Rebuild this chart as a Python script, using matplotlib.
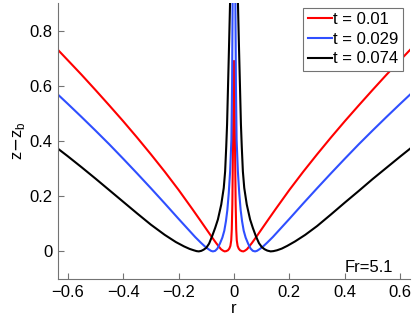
import matplotlib
matplotlib.use("Agg")
import matplotlib.pyplot as plt

plt.rcParams['font.family'] = ['Liberation Sans', 'DejaVu Sans']

labels = ["t = 0.01", "t = 0.029", "t = 0.074"]
colors = ["#ff0000", "#2f4fff", "#000000"]

# t = 0.01 (red)
r_red = [-0.635, -0.60, -0.55, -0.50, -0.45, -0.40, -0.35, -0.30, -0.25, -0.20, -0.15, -0.12,
         -0.10, -0.08, -0.065, -0.055, -0.047, -0.04, -0.034, -0.028, -0.022, -0.017, -0.013,
         -0.010, -0.008, -0.006, -0.0045, -0.003, -0.0015, 0.0,
         0.0015, 0.003, 0.0045, 0.006, 0.008, 0.010, 0.013, 0.017, 0.022, 0.028, 0.034, 0.04,
         0.047, 0.055, 0.065, 0.08, 0.10, 0.12, 0.15, 0.20, 0.25, 0.30, 0.35, 0.40, 0.45,
         0.50, 0.55, 0.60, 0.635]
z_red = [0.73, 0.693, 0.640, 0.585, 0.529, 0.472, 0.413, 0.352, 0.289, 0.223, 0.153, 0.110,
         0.081, 0.052, 0.031, 0.018, 0.008, 0.003, 0.0, 0.001, 0.004, 0.010, 0.020,
         0.040, 0.080, 0.17, 0.30, 0.45, 0.60, 0.69,
         0.60, 0.45, 0.30, 0.17, 0.080, 0.040, 0.020, 0.010, 0.004, 0.001, 0.0, 0.003,
         0.008, 0.018, 0.031, 0.052, 0.081, 0.110, 0.153, 0.223, 0.289, 0.352, 0.413, 0.472, 0.529,
         0.585, 0.640, 0.693, 0.73]

# t = 0.029 (blue)
r_blue = [-0.635, -0.60, -0.55, -0.50, -0.45, -0.40, -0.35, -0.30, -0.25, -0.20, -0.17, -0.14,
          -0.12, -0.105, -0.092, -0.083, -0.076, -0.068, -0.06, -0.051, -0.042, -0.035, -0.029,
          -0.024, -0.019, -0.014, -0.0094, -0.007, -0.005, -0.003, 0.0,
          0.003, 0.005, 0.007, 0.0094, 0.014, 0.019, 0.024, 0.029, 0.035, 0.042, 0.051, 0.06,
          0.068, 0.076, 0.083, 0.092, 0.105, 0.12, 0.14, 0.17, 0.20, 0.25, 0.30, 0.35, 0.40,
          0.45, 0.50, 0.55, 0.60, 0.635]
z_blue = [0.568, 0.535, 0.487, 0.438, 0.388, 0.336, 0.283, 0.229, 0.174, 0.118, 0.085, 0.052,
          0.032, 0.018, 0.008, 0.002, 0.0, 0.002, 0.010, 0.028, 0.050, 0.075, 0.110,
          0.150, 0.210, 0.290, 0.405, 0.60, 0.90, 1.0, 1.05,
          1.0, 0.90, 0.60, 0.405, 0.290, 0.210, 0.150, 0.110, 0.075, 0.050, 0.028, 0.010,
          0.002, 0.0, 0.002, 0.008, 0.018, 0.032, 0.052, 0.085, 0.118, 0.174, 0.229, 0.283, 0.336,
          0.388, 0.438, 0.487, 0.535, 0.568]

# t = 0.074 (black)
r_black = [-0.635, -0.60, -0.55, -0.50, -0.45, -0.40, -0.35, -0.30, -0.25, -0.21, -0.18, -0.16,
           -0.145, -0.135, -0.127, -0.118, -0.11, -0.10, -0.09, -0.079, -0.068, -0.058, -0.046,
           -0.037, -0.032, -0.028, -0.025, -0.022, -0.018, -0.014, -0.01, 0.0,
           0.01, 0.014, 0.018, 0.022, 0.025, 0.028, 0.032, 0.037, 0.046, 0.058, 0.068, 0.079,
           0.09, 0.10, 0.11, 0.12, 0.132, 0.142, 0.155, 0.172, 0.192, 0.22, 0.257, 0.30, 0.35,
           0.40, 0.45, 0.50, 0.55, 0.60, 0.635]
z_black = [0.372, 0.345, 0.305, 0.264, 0.222, 0.180, 0.138, 0.097, 0.060, 0.034, 0.018, 0.009,
           0.004, 0.001, 0.0, 0.002, 0.006, 0.013, 0.028, 0.055, 0.085, 0.116, 0.17,
           0.23, 0.29, 0.38, 0.46, 0.58, 0.74, 0.91, 1.05, 1.1,
           1.05, 0.91, 0.74, 0.58, 0.46, 0.38, 0.29, 0.23, 0.17, 0.116, 0.085, 0.055,
           0.030, 0.016, 0.008, 0.003, 0.0, 0.001, 0.004, 0.010, 0.020, 0.036, 0.060, 0.092, 0.134,
           0.177, 0.219, 0.262, 0.303, 0.344, 0.372]

xticks = [-0.6, -0.4, -0.2, 0, 0.2, 0.4, 0.6]
xticklabels = ["\u22120.6", "\u22120.4", "\u22120.2", "0", "0.2", "0.4", "0.6"]
yticks = [0, 0.2, 0.4, 0.6, 0.8]
yticklabels = ["0", "0.2", "0.4", "0.6", "0.8"]

fig = plt.figure(figsize=(4.15, 3.2), dpi=100)
ax = fig.add_axes([58/415, 41/320, 352/415, 276/320])

for r, z, c, lab in zip([r_red, r_blue, r_black], [z_red, z_blue, z_black], colors, labels):
    ax.plot(r, z, color=c, lw=1.5, label=lab)

ax.set_xlim(-0.635, 0.635)
ax.set_ylim(-0.1, 0.9)
ax.set_xticks(xticks)
ax.set_xticklabels(xticklabels)
ax.set_yticks(yticks)
ax.set_yticklabels(yticklabels)

for s in ["top", "right"]:
    ax.spines[s].set_visible(False)
for s in ["left", "bottom"]:
    ax.spines[s].set_color("0.45")
    ax.spines[s].set_linewidth(0.8)
ax.tick_params(direction="in", length=4, width=0.8, color="0.45", labelsize=12,
               labelcolor="black", pad=4)

ax.set_xlabel("r", fontsize=12, labelpad=1)
ax.set_ylabel(r"z$-$z$_\mathregular{b}$", fontsize=12, labelpad=2)

ax.text(0.40, -0.073, "Fr=5.1", fontsize=12, ha="left", va="baseline")

leg = ax.legend(loc="upper right", bbox_to_anchor=(403/415, 312/320),
                bbox_transform=fig.transFigure, fontsize=12, frameon=True, fancybox=False,
                framealpha=1, edgecolor="0.45", handlelength=1.45, handletextpad=0.1,
                borderpad=0.25, labelspacing=0.28, borderaxespad=0.0)
leg.get_frame().set_linewidth(0.8)

fig.savefig("out.png", dpi=100)
